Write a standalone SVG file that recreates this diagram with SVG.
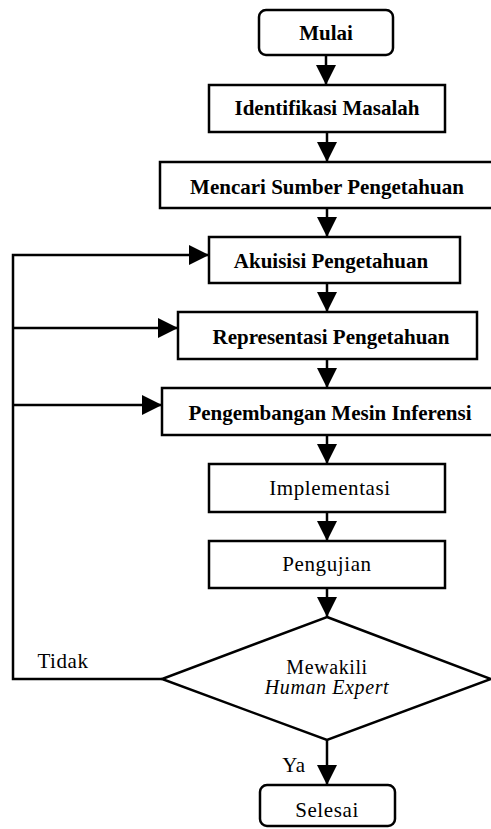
<svg xmlns="http://www.w3.org/2000/svg" width="491" height="829" viewBox="0 0 491 829">
<defs>
<marker id="ah" markerWidth="20" markerHeight="20" refX="20" refY="10" orient="auto" markerUnits="userSpaceOnUse">
<path d="M0,0 L20,10 L0,20 Z" fill="#000"/>
</marker>
</defs>
<style>
.box{fill:#fff;stroke:#000;stroke-width:2.5}
.t{font-family:"Liberation Serif",serif;font-size:21px;text-anchor:middle;fill:#000;letter-spacing:0.6px}
.b{font-weight:bold;letter-spacing:0px}
.d{font-size:20px}
.c{fill:none;stroke:#000;stroke-width:2.5}
</style>
<rect width="491" height="829" fill="#fff"/>
<g id="connectors">
<line class="c" x1="326" y1="55" x2="326" y2="85" marker-end="url(#ah)"/>
<line class="c" x1="327" y1="132" x2="327" y2="162" marker-end="url(#ah)"/>
<line class="c" x1="327" y1="208" x2="327" y2="237" marker-end="url(#ah)"/>
<line class="c" x1="327" y1="283" x2="327" y2="312" marker-end="url(#ah)"/>
<line class="c" x1="327" y1="359" x2="327" y2="388" marker-end="url(#ah)"/>
<line class="c" x1="327" y1="435" x2="327" y2="464" marker-end="url(#ah)"/>
<line class="c" x1="327" y1="512" x2="327" y2="541" marker-end="url(#ah)"/>
<line class="c" x1="327" y1="588" x2="327" y2="617" marker-end="url(#ah)"/>
<line class="c" x1="327" y1="740" x2="327" y2="785" marker-end="url(#ah)"/>
<polyline class="c" points="162,679 13,679 13,255 209,255" marker-end="url(#ah)"/>
<line class="c" x1="13" y1="328" x2="178" y2="328" marker-end="url(#ah)"/>
<line class="c" x1="13" y1="405" x2="162" y2="405" marker-end="url(#ah)"/>
<text class="t" x="63" y="668">Tidak</text>
<text class="t" x="294" y="772">Ya</text>
</g>
<g id="mulai">
<rect class="box" x="259" y="10" width="134" height="45" rx="7"/>
<text class="t b" x="326" y="40">Mulai</text>
</g>
<g id="identifikasi">
<rect class="box" x="209" y="85" width="236" height="47"/>
<text class="t b" x="327" y="115">Identifikasi Masalah</text>
</g>
<g id="mencari">
<rect class="box" x="160" y="162" width="345" height="46"/>
<text class="t b" x="327" y="194">Mencari Sumber Pengetahuan</text>
</g>
<g id="akuisisi">
<rect class="box" x="209" y="237" width="251" height="46"/>
<text class="t b" x="331" y="268">Akuisisi Pengetahuan</text>
</g>
<g id="representasi">
<rect class="box" x="178" y="312" width="299" height="47"/>
<text class="t b" x="331" y="344">Representasi Pengetahuan</text>
</g>
<g id="pengembangan">
<rect class="box" x="162" y="388" width="345" height="47"/>
<text class="t b" x="330" y="420">Pengembangan Mesin Inferensi</text>
</g>
<g id="implementasi">
<rect class="box" x="209" y="464" width="236" height="48"/>
<text class="t" x="330" y="495">Implementasi</text>
</g>
<g id="pengujian">
<rect class="box" x="209" y="541" width="236" height="47"/>
<text class="t" x="327" y="571">Pengujian</text>
</g>
<g id="keputusan">
<polygon class="box" points="327,617 491,679 327,740 162,679"/>
<text class="t d" x="327" y="674">Mewakili</text>
<text class="t d" x="327" y="694" font-style="italic">Human Expert</text>
</g>
<g id="selesai">
<rect class="box" x="260" y="785" width="135" height="41" rx="7"/>
<text class="t" x="327" y="817">Selesai</text>
</g>
</svg>
